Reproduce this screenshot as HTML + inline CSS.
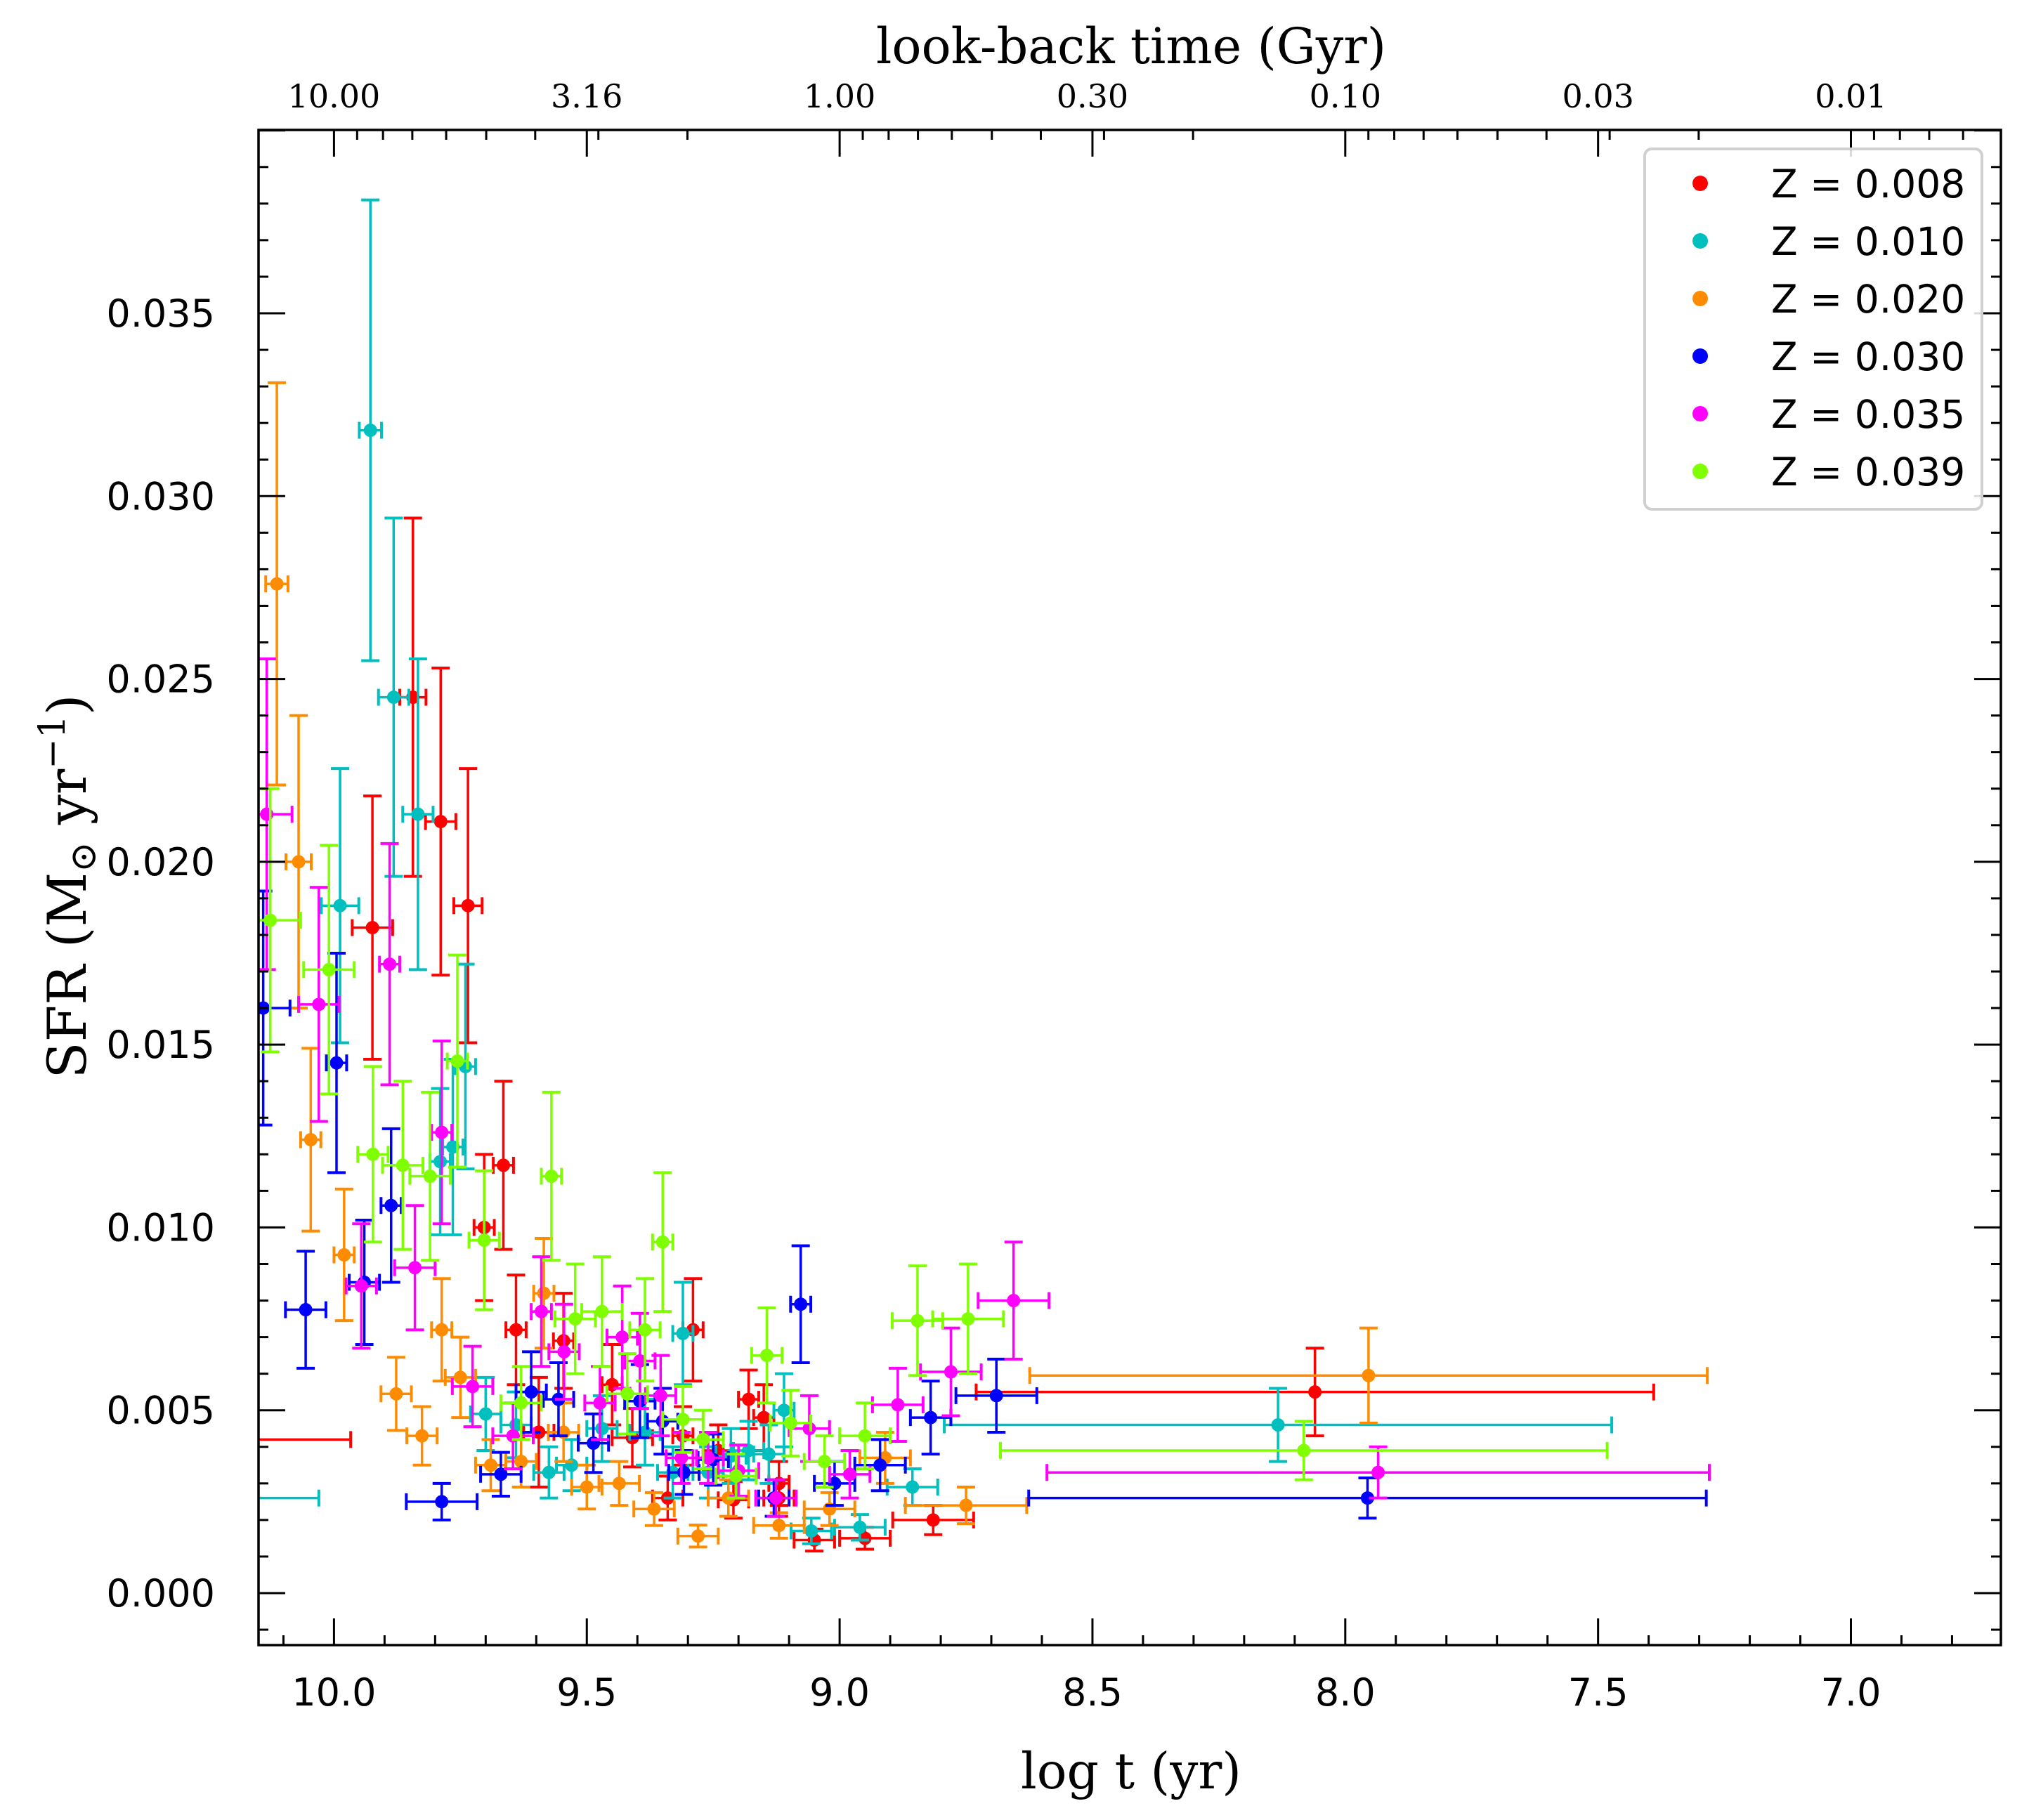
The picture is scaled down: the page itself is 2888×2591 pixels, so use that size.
<!DOCTYPE html>
<html><head><meta charset="utf-8"><style>
html,body{margin:0;padding:0;background:#fff}
svg{display:block}
</style></head><body>
<svg id="chart" width="2888" height="2591" viewBox="0 0 2888 2591" xmlns="http://www.w3.org/2000/svg">
<defs><clipPath id="plotclip"><rect x="368" y="185" width="2480" height="2157"/></clipPath></defs>
<rect x="0" y="0" width="2888" height="2591" fill="#fff"/>
<g id="series" clip-path="url(#plotclip)"></g>
<g id="axes"></g>
<rect x="368" y="185" width="2480" height="2157" fill="none" stroke="#000" stroke-width="3.5"/>
<g id="legend"></g>
<text x="1610" y="2546" text-anchor="middle" font-family="DejaVu Serif, Liberation Serif, serif" font-size="71">log t (yr)</text>
<text x="1610" y="90" text-anchor="middle" font-family="DejaVu Serif, Liberation Serif, serif" font-size="70">look-back time (Gyr)</text>
<text transform="translate(122,1262) rotate(-90)" text-anchor="middle" font-family="DejaVu Serif, Liberation Serif, serif" font-size="76">SFR (M<tspan font-size="52" dy="14">⊙</tspan><tspan dy="-14"> yr</tspan><tspan font-size="52" dy="-30">−1</tspan><tspan dy="30">)</tspan></text>
</svg>
<script>
// ---- data (x = log t [yr], y = SFR in 1e-3 Msun/yr) ----
const seriesNames = ["Z = 0.008","Z = 0.010","Z = 0.020","Z = 0.030","Z = 0.035","Z = 0.039"];
const seriesColors = ["#ff0000","#00bfbf","#ff8c00","#0000ff","#ff00ff","#7fff00"];

const redX  = [10.35,9.844,9.789,9.735,9.924,9.665,9.703,9.64,9.546,9.595,9.45,9.41,9.29,9.31,9.34,9.24,9.21,9.18,9.15,9.12,9.12,9.05,8.95,8.815,8.06];
const redY  = [4.2,24.5,21.1,18.8,18.2,11.7,10.0,7.2,6.9,4.4,5.7,4.25,7.2,4.3,2.6,3.9,2.55,5.3,4.8,3.0,2.6,1.45,1.5,2.0,5.5];
const redXe = [0.383,0.026,0.03,0.028,0.04,0.02,0.02,0.02,0.02,0.03,0.02,0.04,0.02,0.02,0.03,0.03,0.03,0.02,0.02,0.02,0.03,0.04,0.05,0.08,0.67];
const redYe = [0,4.9,4.2,3.75,3.6,2.3,2.0,1.5,1.3,1.5,1.1,0.8,1.4,0.8,0.6,0.7,0.5,0.8,0.9,0.6,0.5,0.3,0.3,0.4,1.2];

const cyanX  = [10.35,9.928,9.882,9.834,9.988,9.74,9.765,9.79,9.7,9.64,9.575,9.53,9.47,9.385,9.31,9.33,9.26,9.215,9.18,9.14,9.11,9.056,8.96,8.856,8.133];
const cyanY  = [2.6,31.8,24.5,21.3,18.8,14.4,12.2,11.8,4.9,4.6,3.3,3.5,4.5,4.4,7.1,3.3,3.3,3.75,3.9,3.8,5.0,1.7,1.8,2.9,4.6];
const cyanXe = [0.32,0.022,0.03,0.03,0.037,0.02,0.02,0.02,0.03,0.03,0.03,0.03,0.03,0.03,0.02,0.03,0.03,0.03,0.03,0.03,0.02,0.04,0.05,0.05,0.66];
const cyanYe = [0,6.3,4.9,4.25,3.75,2.8,2.4,2.0,1.0,0.9,0.7,0.7,0.9,0.9,1.4,0.7,0.7,0.75,0.8,0.8,1.0,0.35,0.35,0.5,1.0];

const orangeX  = [10.113,10.07,10.046,9.98,9.877,9.826,9.787,9.75,9.69,9.63,9.585,9.546,9.5,9.436,9.367,9.28,9.22,9.12,9.02,8.91,8.75,7.954];
const orangeY  = [27.6,20.0,12.4,9.25,5.45,4.3,7.2,5.9,3.5,3.6,8.2,4.4,2.9,3.0,2.3,1.56,2.6,1.85,2.3,3.7,2.4,5.95];
const orangeXe = [0.022,0.025,0.02,0.02,0.03,0.03,0.02,0.03,0.03,0.03,0.02,0.03,0.03,0.04,0.04,0.04,0.04,0.05,0.05,0.05,0.12,0.67];
const orangeYe = [5.5,4.0,2.5,1.8,1.0,0.8,1.4,1.1,0.7,0.7,1.5,0.8,0.6,0.6,0.45,0.3,0.5,0.35,0.45,0.7,0.5,1.3];

const blueX  = [10.14,9.995,10.056,9.887,9.94,9.787,9.67,9.61,9.556,9.487,9.395,9.35,9.308,9.25,9.13,9.077,9.01,8.92,8.82,8.69,7.956];
const blueY  = [16.0,14.5,7.75,10.6,8.5,2.5,3.25,5.5,5.3,4.1,5.25,4.7,3.3,3.65,2.6,7.9,3.0,3.5,4.8,5.4,2.6];
const blueXe = [0.053,0.02,0.04,0.02,0.03,0.07,0.04,0.03,0.03,0.03,0.03,0.03,0.03,0.03,0.03,0.02,0.04,0.05,0.04,0.08,0.67];
const blueYe = [3.2,3.0,1.6,2.1,1.7,0.5,0.6,1.1,1.0,0.8,1.0,0.9,0.6,0.7,0.5,1.6,0.6,0.7,1.0,1.0,0.55];

const magentaX  = [10.133,10.03,9.89,9.946,9.787,9.84,9.726,9.646,9.59,9.545,9.474,9.43,9.395,9.354,9.313,9.26,9.2,9.126,9.06,8.98,8.885,8.78,8.656,7.935];
const magentaY  = [21.3,16.1,17.2,8.4,12.6,8.9,5.65,4.3,7.7,6.6,5.2,7.0,6.35,5.4,3.7,3.7,3.35,2.6,4.5,3.25,5.15,6.05,8.0,3.3];
const magentaXe = [0.05,0.04,0.02,0.03,0.02,0.04,0.04,0.04,0.02,0.03,0.03,0.03,0.03,0.03,0.03,0.03,0.04,0.04,0.04,0.04,0.05,0.06,0.07,0.655];
const magentaYe = [4.25,3.2,3.3,1.7,2.5,1.7,1.1,0.9,1.5,1.3,1.0,1.4,1.3,1.1,0.7,0.7,0.7,0.5,0.9,0.65,1.0,1.2,1.6,0.7];

const limeX  = [10.126,10.01,9.923,9.864,9.81,9.756,9.703,9.57,9.63,9.523,9.47,9.42,9.385,9.35,9.31,9.27,9.205,9.144,9.097,9.03,8.95,8.846,8.746,8.082];
const limeY  = [18.4,17.05,12.0,11.7,11.4,14.55,9.65,11.4,5.2,7.5,7.7,5.45,7.2,9.6,4.75,4.2,3.2,6.5,4.65,3.6,4.3,7.45,7.5,3.9];
const limeXe = [0.06,0.05,0.03,0.04,0.04,0.02,0.03,0.02,0.04,0.04,0.04,0.04,0.03,0.02,0.04,0.04,0.04,0.03,0.04,0.04,0.05,0.05,0.07,0.6];
const limeYe = [3.6,3.4,2.4,2.3,2.3,2.9,1.9,2.3,1.0,1.5,1.5,1.1,1.4,1.9,0.9,0.8,0.6,1.3,0.9,0.7,0.9,1.5,1.5,0.8];

const xMajorTicks = [10.0,9.5,9.0,8.5,8.0,7.5,7.0];
const xTickLabels = ["10.0","9.5","9.0","8.5","8.0","7.5","7.0"];
const yMajorTicks = [0,5,10,15,20,25,30,35];
const yTickLabels = ["0.000","0.005","0.010","0.015","0.020","0.025","0.030","0.035"];
const topTickGyr = [10,3.16,1,0.3,0.1,0.03,0.01];
const topTickLabels = ["10.00","3.16","1.00","0.30","0.10","0.03","0.01"];
const topTickLogs = [10,9.5,9,8.5,8,7.5,7];

// ---- axes functions ----
const X0=475.4, XS=719.7, Y0=2268, YS=52.057;
function xs(v){return X0+(10-v)*XS;}
function ys(v){return Y0-v*YS;}
const L=368,R=2848,T=185,B=2342;
const NS="http://www.w3.org/2000/svg";
function mk(tag,attrs,parent){const e=document.createElementNS(NS,tag);for(const k in attrs)e.setAttribute(k,attrs[k]);parent.appendChild(e);return e;}

const axes=document.getElementById('axes');
function tick(x1,y1,x2,y2,name,w){
  const l=mk('line',{x1:x1,y1:y1,x2:x2,y2:y2,stroke:'#000','stroke-width':w},axes);
  
  
}
for(let i=0;i<=36;i++){
  const v=6.7+i*0.1; const x=xs(v); if(x<L||x>R) continue;
  const major=Math.abs(v*2-Math.round(v*2))<1e-6;
  const len=major?38:14;
  tick(x,B,x,B-len,major?'x-major-tick':'x-minor-tick',3);
}
xMajorTicks.forEach((v,i)=>{
  const t=mk('text',{x:xs(v),y:B+86,'text-anchor':'middle','font-family':'DejaVu Sans, Liberation Sans, sans-serif','font-size':54},axes);
  t.textContent=xTickLabels[i];
  
  
});
for(let n=6;n<=10;n++){
  for(let k=1;k<=9;k++){
    const v=n+Math.log10(k); const x=xs(v); if(x<L||x>R) continue;
    tick(x,T,x,T+(k===1?38:14),k===1?'top-major-tick':'top-minor-tick',3);
  }
}
topTickLogs.forEach((v,i)=>{
  const x=xs(v);
  if(v===9.5||v===8.5||v===7.5) tick(x,T,x,T+38,'top-major-tick',3);
  const t=mk('text',{x:x,y:T-32,'text-anchor':'middle','font-family':'DejaVu Serif, Liberation Serif, serif','font-size':46},axes);
  t.textContent=topTickLabels[i];
  
  
});
for(let i=-1;i<=40;i++){
  const y=ys(i); if(y<T||y>B) continue;
  const major=i%5===0; const len=major?38:14;
  tick(L,y,L+len,y,major?'y-major-tick':'y-minor-tick',3);
  tick(R,y,R-len,y,major?'y-right-major-tick':'y-right-minor-tick',3);
}
yMajorTicks.forEach((v,i)=>{
  const t=mk('text',{x:L-62,y:ys(v)+19,'text-anchor':'end','font-family':'DejaVu Sans, Liberation Sans, sans-serif','font-size':54},axes);
  t.textContent=yTickLabels[i];
  
  
});

// ---- series ----
const allX=[redX,cyanX,orangeX,blueX,magentaX,limeX];
const allY=[redY,cyanY,orangeY,blueY,magentaY,limeY];
const allXe=[redXe,cyanXe,orangeXe,blueXe,magentaXe,limeXe];
const allYe=[redYe,cyanYe,orangeYe,blueYe,magentaYe,limeYe];
const sg=document.getElementById('series');
allX.forEach((xa,s)=>{
  const g=mk('g',{},sg);
  
  
  const c=seriesColors[s];
  xa.forEach((xv,i)=>{
    const yv=allY[s][i], xe=allXe[s][i], ye=allYe[s][i];
    const cx=xs(xv), cy=ys(yv);
    const x1=xs(xv+xe), x2=xs(xv-xe), y1=ys(yv+ye), y2=ys(yv-ye);
    const p=mk('g',{},g);
    
    
    mk('line',{x1:x1,y1:cy,x2:x2,y2:cy,stroke:c,'stroke-width':3.5},p);
    mk('line',{x1:x1,y1:cy-12,x2:x1,y2:cy+12,stroke:c,'stroke-width':4},p);
    mk('line',{x1:x2,y1:cy-12,x2:x2,y2:cy+12,stroke:c,'stroke-width':4},p);
    if(ye>0){
      mk('line',{x1:cx,y1:y1,x2:cx,y2:y2,stroke:c,'stroke-width':3.5},p);
      mk('line',{x1:cx-13,y1:y1,x2:cx+13,y2:y1,stroke:c,'stroke-width':4},p);
      mk('line',{x1:cx-13,y1:y2,x2:cx+13,y2:y2,stroke:c,'stroke-width':4},p);
    }
    mk('circle',{cx:cx,cy:cy,r:9.5,fill:c},p);
  });
});

// ---- legend ----
const lg=document.getElementById('legend');
const box=mk('rect',{x:2341,y:212,width:480,height:513,rx:10,fill:'#fff','fill-opacity':0.85,stroke:'#d0d0d0','stroke-width':4},lg);


seriesNames.forEach((n,i)=>{
  const y=261+i*82;
  const e=mk('g',{},lg);
  
  
  mk('circle',{cx:2420,cy:y,r:11,fill:seriesColors[i]},e);
  const t=mk('text',{x:2521,y:y+20,'font-family':'DejaVu Sans, Liberation Sans, sans-serif','font-size':55},e);
  t.textContent=n;
});
</script>
</body></html>
